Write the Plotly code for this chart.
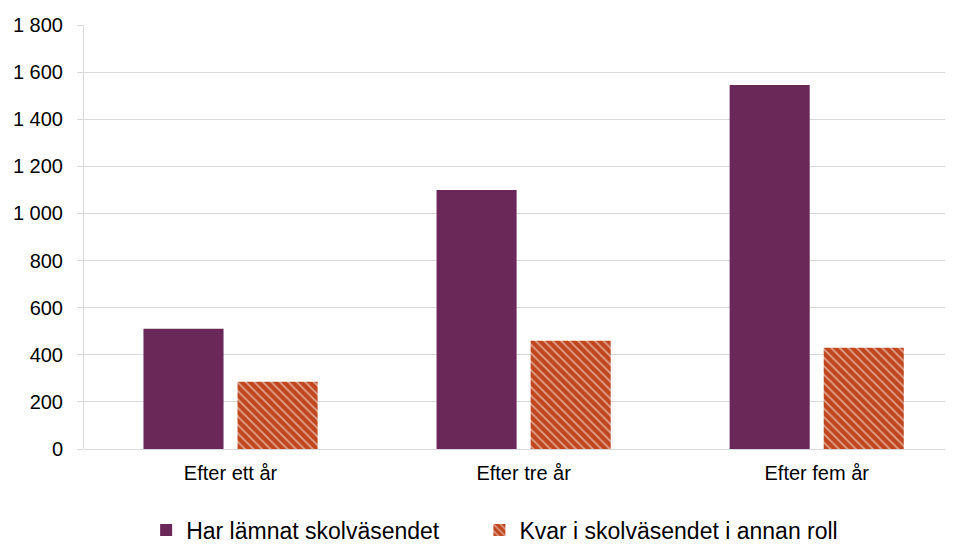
import plotly.graph_objects as go

categories = ["Efter ett år", "Efter tre år", "Efter fem år"]
left_school = [510, 1100, 1545]
other_role = [285, 460, 430]
tick_vals = [0, 200, 400, 600, 800, 1000, 1200, 1400, 1600, 1800]
tick_text = ["0", "200", "400", "600", "800", "1 000", "1 200", "1 400", "1 600", "1 800"]

font_family = "Liberation Sans, Arial, sans-serif"

fig = go.Figure()
fig.add_trace(go.Bar(
    x=categories, y=left_school, name="Har lämnat skolväsendet",
    marker=dict(color="#6A2858", line=dict(width=0)),
    legend="legend",
))
fig.add_trace(go.Bar(
    x=categories, y=other_role, name="Kvar i skolväsendet i annan roll",
    marker=dict(color="#C0461E", line=dict(width=0),
                pattern=dict(shape="\\", fgcolor="#FFFFFF", bgcolor="#C0461E",
                             fillmode="overlay", size=6, solidity=0.3)),
    legend="legend2",
))

legend_common = dict(orientation="h", yref="container", y=0.042, yanchor="middle",
                     xanchor="left", font=dict(size=23), bgcolor="rgba(0,0,0,0)")

fig.update_layout(
    width=953, height=545,
    margin=dict(l=76, r=8, t=17, b=104, autoexpand=False),
    paper_bgcolor="white", plot_bgcolor="white",
    barmode="group", bargap=0.358, bargroupgap=0.149,
    font=dict(family=font_family, size=18, color="#000000"),
    showlegend=True,
    legend=dict(x=0.0715, **legend_common),
    legend2=dict(x=0.455, **legend_common),
    xaxis=dict(range=[-0.5, 2.465], showgrid=False, showline=False, ticks="",
               tickfont=dict(size=20), ticklabelstandoff=10, automargin=False),
    yaxis=dict(range=[0, 1800], tickvals=tick_vals, ticktext=tick_text,
               showgrid=True, gridcolor="#D9D9D9", gridwidth=1,
               showline=True, linecolor="#D9D9D9", linewidth=1,
               ticks="outside", ticklen=6, tickcolor="#D9D9D9",
               zeroline=True, zerolinecolor="#D9D9D9", zerolinewidth=1,
               tickfont=dict(size=20), ticklabelstandoff=10, automargin=False),
)

fig.write_html("out.html")
